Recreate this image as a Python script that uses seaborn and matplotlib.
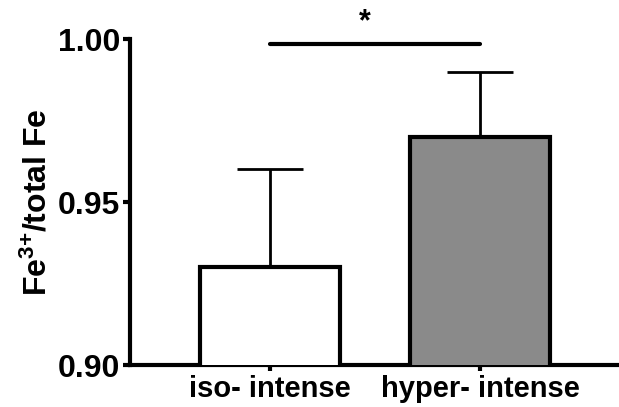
import numpy as np
import pandas as pd
import seaborn as sns
import matplotlib
matplotlib.use('Agg')
import matplotlib.pyplot as plt

# 값은 그림에서 읽은 추정치
groups = ['iso- intense', 'hyper- intense']
means = [0.93, 0.97]
sem = [0.03, 0.02]
bar_colors = ['#ffffff', '#8a8a8a']

df = pd.DataFrame({'group': groups, 'ratio': means})

sns.set_style('ticks', {'axes.edgecolor': 'black', 'text.color': 'black',
                        'xtick.color': 'black', 'ytick.color': 'black',
                        'axes.labelcolor': 'black'})
plt.rcParams['font.family'] = ['Liberation Sans', 'DejaVu Sans']
plt.rcParams['font.weight'] = 'bold'
plt.rcParams['mathtext.fontset'] = 'custom'
plt.rcParams['mathtext.rm'] = 'Liberation Sans:bold'
plt.rcParams['mathtext.default'] = 'rm'

fig = plt.figure(figsize=(6.19, 4.07), dpi=100)
ax = fig.add_axes([0.21, 0.103, 0.79, 0.801])

sns.barplot(data=df, x='group', y='ratio', hue='group', palette=bar_colors,
            order=groups, errorbar=None, width=0.667, edgecolor='black',
            linewidth=3, legend=False, ax=ax, zorder=3)

# 위쪽 방향 오차막대만 그린다
ax.errorbar(range(len(groups)), means, yerr=[[0] * len(sem), sem], fmt='none',
            ecolor='black', elinewidth=2, capsize=24, capthick=2, zorder=2)

ax.set_ylim(0.90, 1.00)
ax.set_xlim(-0.667, 1.662)
ax.set_yticks([0.90, 0.95, 1.00])
ax.set_yticklabels(['0.90', '0.95', '1.00'])
ax.set_xlabel('')
ax.set_ylabel(r'Fe$^{3{+}}$/total Fe', fontsize=23, fontweight='bold', labelpad=3)

for side in ['top', 'right']:
    ax.spines[side].set_visible(False)
for side in ['left', 'bottom']:
    ax.spines[side].set_linewidth(3)

ax.tick_params(axis='y', labelsize=23, width=3, length=5, pad=2)
ax.tick_params(axis='x', labelsize=21, width=3, length=4, pad=3)
for lab in ax.get_xticklabels() + ax.get_yticklabels():
    lab.set_fontweight('bold')

# 유의성 표시
ax.plot([0, 1], [0.9985, 0.9985], color='black', linewidth=3, clip_on=False)
ax.text(0.45, 1.0005, '*', ha='center', va='bottom', fontsize=22, fontweight='bold')

fig.savefig('out.png', dpi=100)
